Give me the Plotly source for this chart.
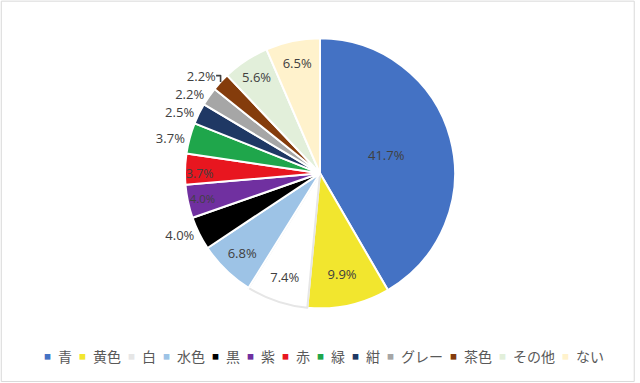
import plotly.graph_objects as go

labels = ["青", "黄色", "白", "水色", "黒", "紫", "赤", "緑", "紺", "グレー", "茶色", "その他", "ない"]
values = [41.7, 9.9, 7.4, 6.8, 4.0, 4.0, 3.7, 3.7, 2.5, 2.2, 2.2, 5.6, 6.5]
colors = ["#4472c4", "#f2e62e", "#ffffff", "#9dc3e6", "#000000", "#7030a0",
          "#e8161f", "#1fa64b", "#1f3864", "#a6a6a6", "#843c0c", "#e2efda", "#fff2cc"]
positions = ["inside", "inside", "inside", "inside", "outside", "inside", "inside",
             "outside", "outside", "outside", "outside", "inside", "inside"]
line_colors = ["#ffffff"] * len(labels)
line_colors[2] = "#e6e6e6"

fig = go.Figure(go.Pie(
    labels=labels,
    values=values,
    sort=False,
    direction="clockwise",
    rotation=0,
    marker=dict(colors=colors, line=dict(color=line_colors, width=2)),
    texttemplate="%{value:.1f}%",
    textposition=positions,
    textfont=dict(color="#404040", size=13, family="Open Sans, Noto Sans CJK JP"),
    insidetextorientation="horizontal",
    domain=dict(x=[0.1, 0.9], y=[0.195, 0.90]),
    showlegend=False,
    automargin=False,
    hoverinfo="label+value",
))

# legend drawn as a single text line built from the data arrays
parts = []
for lab, col in zip(labels, colors):
    scol = col if col != "#ffffff" else "#e6e6e6"
    parts.append(f"<span style='font-size:7px;fill:{scol};baseline-shift:3px'>■</span>\u2002{lab}")
legend_text = "\u2002".join(parts)

fig.update_layout(
    width=640, height=383,
    margin=dict(l=0, r=0, t=0, b=0, pad=0, autoexpand=False),
    paper_bgcolor="white",
    plot_bgcolor="white",
    font=dict(family="Noto Sans CJK JP, Open Sans", color="#595959"),
    annotations=[dict(text=legend_text, xref="paper", yref="paper", x=0.507, y=0.07,
                      xanchor="center", yanchor="middle", showarrow=False,
                      font=dict(size=14, color="#595959", family="Noto Sans CJK JP"))],
    shapes=[dict(type="rect", xref="paper", yref="paper", x0=0.002, x1=0.991, y0=0.004, y1=0.997,
                 line=dict(color="#d9d9d9", width=1))],
)

fig.write_html("out.html")
